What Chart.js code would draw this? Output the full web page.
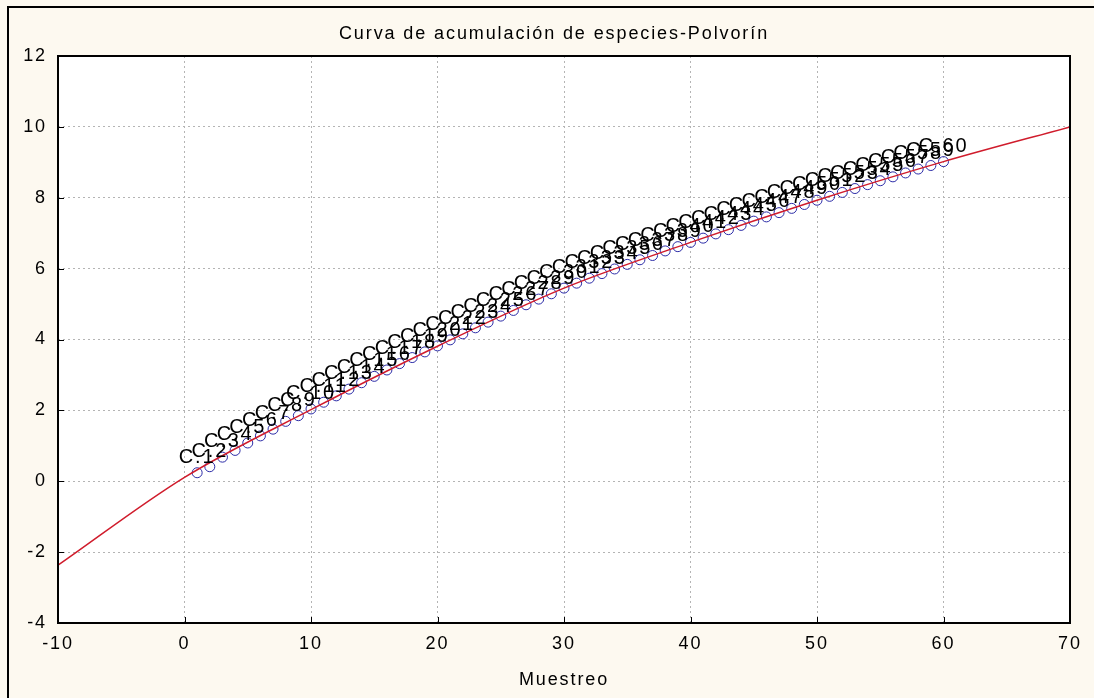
<!DOCTYPE html>
<html>
<head>
<meta charset="utf-8">
<title>Curva de acumulación de especies-Polvorín</title>
<script src="https://cdn.jsdelivr.net/npm/chart.js@4.4.1/dist/chart.umd.min.js"></script>
<style>
  html, body { margin: 0; padding: 0; background: #fdf9f0; }
  canvas { display: block; }
</style>
</head>
<body>
<canvas id="Grafica1" width="1094" height="698"></canvas>
<script>
// Muestreos (casos) y especies acumuladas
const muestreos = [1, 2, 3, 4, 5, 6, 7, 8, 9, 10,
	11, 12, 13, 14, 15, 16, 17, 18, 19, 20,
	21, 22, 23, 24, 25, 26, 27, 28, 29, 30,
	31, 32, 33, 34, 35, 36, 37, 38, 39, 40,
	41, 42, 43, 44, 45, 46, 47, 48, 49, 50,
	51, 52, 53, 54, 55, 56, 57, 58, 59, 60];
const especies = [0.24, 0.41, 0.68, 0.87, 1.08, 1.28, 1.47, 1.69, 1.85, 2.04,
	2.23, 2.41, 2.60, 2.78, 2.96, 3.14, 3.32, 3.49, 3.65, 3.82,
	3.99, 4.16, 4.33, 4.49, 4.66, 4.82, 4.98, 5.14, 5.29, 5.45,
	5.59, 5.73, 5.86, 5.99, 6.12, 6.25, 6.37, 6.50, 6.62, 6.74,
	6.86, 6.98, 7.10, 7.22, 7.34, 7.46, 7.58, 7.70, 7.81, 7.93,
	8.04, 8.15, 8.26, 8.37, 8.48, 8.59, 8.70, 8.81, 8.91, 9.02];
const etiquetas = muestreos.map(n => "C." + n);

// Curva ajustada (roja)
const ajusteX = [-10, 0, 10, 20, 30, 40, 50, 60, 70];
const ajusteY = [-2.37, 0.11, 2.02, 3.81, 5.45, 6.74, 7.93, 9.02, 10.0];

const titulo = "Curva de acumulación de especies-Polvorín";
const fuente = "'Liberation Sans', Arial, sans-serif";

const fondo = {
	id: "fondo",
	beforeDraw(chart) {
		const {ctx, chartArea: a} = chart;
		ctx.letterSpacing = "1.9px";
		ctx.save();
		ctx.fillStyle = "#fdf9f0";
		ctx.fillRect(0, 0, chart.width, chart.height);
		ctx.fillStyle = "#ffffff";
		ctx.fillRect(a.left, a.top, a.right - a.left, a.bottom - a.top);
		// marco exterior
		ctx.strokeStyle = "#000";
		ctx.lineWidth = 2;
		ctx.beginPath();
		ctx.moveTo(8, chart.height);
		ctx.lineTo(8, 7);
		ctx.lineTo(chart.width, 7);
		ctx.stroke();
		// titulo (un poco a la izquierda del centro del area)
		ctx.font = "18px " + fuente;
		ctx.fillStyle = "#000";
		ctx.textAlign = "center";
		ctx.textBaseline = "middle";
		ctx.fillText(titulo, (a.left + a.right) / 2 - 10, 34);
		ctx.restore();
	},
	afterDraw(chart) {
		const {ctx, chartArea: a, scales} = chart;
		ctx.save();
		ctx.strokeStyle = "#000";
		ctx.lineWidth = 2;
		ctx.strokeRect(a.left, a.top, a.right - a.left, a.bottom - a.top);
		// marcas hacia dentro
		ctx.lineWidth = 1;
		ctx.beginPath();
		scales.x.ticks.forEach(t => {
			const px = Math.round(scales.x.getPixelForValue(t.value)) + 0.5;
			ctx.moveTo(px, a.bottom);
			ctx.lineTo(px, a.bottom - 6);
		});
		scales.y.ticks.forEach(t => {
			const py = Math.round(scales.y.getPixelForValue(t.value)) + 0.5;
			ctx.moveTo(a.left, py);
			ctx.lineTo(a.left + 6, py);
		});
		ctx.stroke();
		ctx.restore();
	}
};

const rotulos = {
	id: "rotulos",
	afterDatasetsDraw(chart) {
		const ctx = chart.ctx;
		const meta = chart.getDatasetMeta(0);
		ctx.save();
		ctx.font = "20px " + fuente;
		ctx.fillStyle = "#000";
		ctx.textAlign = "center";
		ctx.textBaseline = "alphabetic";
		meta.data.forEach((pt, i) => {
			ctx.fillText(etiquetas[i], pt.x, pt.y - 10);
		});
		ctx.restore();
	}
};

const ctx = document.getElementById("Grafica1").getContext("2d");
let Grafica1 = new Chart(ctx, {
	type: "scatter",
	data: {
		datasets: [
			{
				label: "Especies",
				data: muestreos.map((m, i) => ({x: m, y: especies[i]})),
				pointRadius: 5,
				pointBorderWidth: 1,
				pointBackgroundColor: "rgba(0, 0, 0, 0)",
				pointBorderColor: "#2c2ca8",
				order: 2,
			},
			{
				label: "Ajuste",
				data: ajusteX.map((x, i) => ({x: x, y: ajusteY[i]})),
				showLine: true,
				cubicInterpolationMode: "monotone",
				borderColor: "#d01c2c",
				borderWidth: 1.5,
				pointRadius: 0,
				order: 1,
			},
		],
	},
	options: {
		responsive: false,
		animation: false,
		layout: {
			padding: {left: 0, right: 24, top: 56, bottom: 0}
		},
		plugins: {
			legend: {display: false},
			tooltip: {enabled: false},
			title: {display: false}
		},
		scales: {
			x: {
				type: "linear",
				min: -10,
				max: 70,
				afterFit(scale) { scale.height = 75; },
				grid: {
					color: "#b4b4b4",
					drawTicks: false,
				},
				border: {display: false, dash: [2, 3]},
				ticks: {
					stepSize: 10,
					color: "#000",
					padding: 10,
					font: {size: 18, family: fuente},
				},
				title: {
					display: true,
					text: "Muestreo",
					color: "#000",
					font: {size: 18, family: fuente},
					padding: {top: 0, bottom: 7}
				}
			},
			y: {
				type: "linear",
				min: -4,
				max: 12,
				afterFit(scale) { scale.width = 58; },
				grid: {
					color: "#b4b4b4",
					drawTicks: false,
				},
				border: {display: false, dash: [2, 3]},
				ticks: {
					stepSize: 2,
					color: "#000",
					padding: 11,
					font: {size: 18, family: fuente},
				}
			}
		}
	},
	plugins: [fondo, rotulos]
});
</script>
</body>
</html>
